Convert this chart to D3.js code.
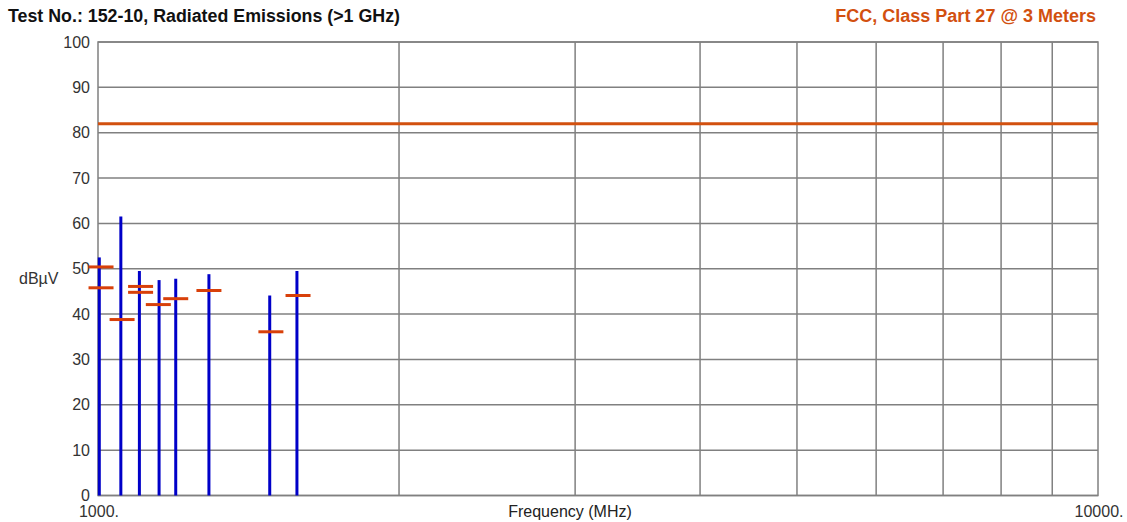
<!DOCTYPE html>
<html>
<head>
<meta charset="utf-8">
<script src="https://cdn.jsdelivr.net/npm/d3@7"></script>
<style>
  html, body { margin: 0; padding: 0; background: #fff; }
  svg { display: block; font-family: "Liberation Sans", Arial, sans-serif; }
</style>
</head>
<body>
<svg id="chart" width="1127" height="522"></svg>
<script>
// Peak emissions (vertical lines), MHz / dBµV
const peakFreqs = [1003, 1054, 1100, 1151, 1196, 1291, 1485, 1581];
const peakLevels = [52.5, 61.5, 49.5, 47.5, 47.8, 48.8, 44.1, 49.5];

// Measured markers (short horizontal dashes), MHz / dBµV
const markFreqs = [1007, 1007, 1057, 1103, 1103, 1149, 1196, 1291, 1489, 1585];
const markLevels = [50.4, 45.8, 38.8, 46.1, 44.8, 42.1, 43.4, 45.2, 36.1, 44.1];

// Limit line
const limitLevel = 82;
const limitRange = [1000, 10000];

const yTicks = [0, 10, 20, 30, 40, 50, 60, 70, 80, 90, 100];
const xGrid = [2000, 3000, 4000, 5000, 6000, 7000, 8000, 9000];
const xTickLabels = [[1000, "1000."], [10000, "10000."]];

const svg = d3.select("#chart");
const plotLeft = 98, plotRight = 1098, plotTop = 42, plotBottom = 495.5;

const x = d3.scaleLog().domain([1000, 10000]).range([plotLeft, plotRight]);
const y = d3.scaleLinear().domain([0, 100]).range([plotBottom, plotTop]);

const gridColor = "#808080";
const labelSize = 16;

// horizontal grid
svg.append("g").selectAll("line").data(yTicks).join("line")
  .attr("x1", plotLeft).attr("x2", plotRight)
  .attr("y1", d => y(d)).attr("y2", d => y(d))
  .attr("stroke", gridColor).attr("stroke-width", 1.5);

// vertical grid
svg.append("g").selectAll("line").data(xGrid).join("line")
  .attr("x1", d => x(d)).attr("x2", d => x(d))
  .attr("y1", plotTop).attr("y2", plotBottom)
  .attr("stroke", gridColor).attr("stroke-width", 1.5);

// frame
svg.append("rect")
  .attr("x", plotLeft).attr("y", plotTop)
  .attr("width", plotRight - plotLeft).attr("height", plotBottom - plotTop)
  .attr("fill", "none").attr("stroke", gridColor).attr("stroke-width", 1.5);

// y tick labels
svg.append("g").selectAll("text").data(yTicks).join("text")
  .attr("x", 90).attr("y", d => y(d)).attr("dy", "0.35em")
  .attr("text-anchor", "end")
  .attr("font-size", labelSize).attr("fill", "#333")
  .text(d => d);

// x tick labels
svg.append("g").selectAll("text").data(xTickLabels).join("text")
  .attr("x", d => x(d[0]) + 1).attr("y", 517)
  .attr("text-anchor", "middle")
  .attr("font-size", labelSize).attr("fill", "#333")
  .text(d => d[1]);

svg.append("text")
  .attr("x", 570).attr("y", 517)
  .attr("text-anchor", "middle")
  .attr("font-size", labelSize).attr("fill", "#222")
  .text("Frequency (MHz)");

svg.append("text")
  .attr("x", 19).attr("y", 284)
  .attr("font-size", labelSize).attr("fill", "#333")
  .text("dBµV");

// titles
svg.append("text")
  .attr("x", 8).attr("y", 22)
  .attr("font-size", 18).attr("font-weight", "bold").attr("fill", "#111")
  .attr("textLength", 392).attr("lengthAdjust", "spacingAndGlyphs")
  .text("Test No.: 152-10, Radiated Emissions (>1 GHz)");

svg.append("text")
  .attr("x", 1096).attr("y", 22)
  .attr("text-anchor", "end")
  .attr("font-size", 18).attr("font-weight", "bold").attr("fill", "#d2500f")
  .text("FCC, Class Part 27 @ 3 Meters");

// limit line
svg.append("line")
  .attr("x1", x(limitRange[0])).attr("x2", x(limitRange[1]))
  .attr("y1", y(limitLevel)).attr("y2", y(limitLevel))
  .attr("stroke", "#d2500f").attr("stroke-width", 3);

// peak lines
svg.append("g").selectAll("line").data(peakFreqs.map((f, i) => [f, peakLevels[i]])).join("line")
  .attr("x1", d => x(d[0])).attr("x2", d => x(d[0]))
  .attr("y1", y(0)).attr("y2", d => y(d[1]))
  .attr("stroke", "#0000c8").attr("stroke-width", 3);

// markers
svg.append("g").selectAll("line").data(markFreqs.map((f, i) => [f, markLevels[i]])).join("line")
  .attr("x1", d => x(d[0]) - 12.5).attr("x2", d => x(d[0]) + 12.5)
  .attr("y1", d => y(d[1])).attr("y2", d => y(d[1]))
  .attr("stroke", "#d8400a").attr("stroke-width", 3);
</script>
</body>
</html>
